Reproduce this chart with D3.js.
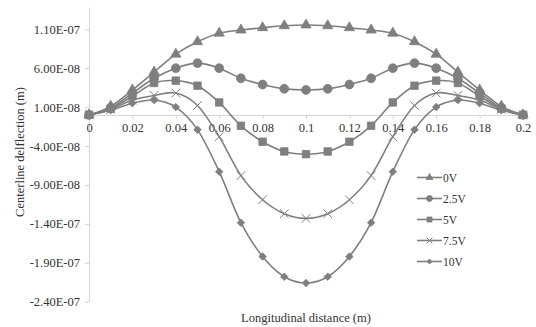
<!DOCTYPE html>
<html>
<head>
<meta charset="utf-8">
<script src="https://cdn.jsdelivr.net/npm/d3@7"></script>
<style>
  body { margin: 0; background: #fff; }
  svg text { font-family: "Liberation Serif", "Times New Roman", serif; fill: #333; }
</style>
</head>
<body>
<svg id="chart" width="536" height="327"></svg>
<script>
// positions along the beam (m)
var xs = [0, 0.01, 0.02, 0.03, 0.04, 0.05, 0.06, 0.07, 0.08, 0.09, 0.1,
          0.11, 0.12, 0.13, 0.14, 0.15, 0.16, 0.17, 0.18, 0.19, 0.2];

// deflection, in units of 1E-08 m
var v0  = [0, 1.1, 3.2, 5.5, 7.8, 9.4, 10.5, 10.9, 11.2, 11.45, 11.55, 11.45, 11.2, 10.9, 10.5, 9.4, 7.8, 5.5, 3.2, 1.1, 0];
var v25 = [0, 0.9, 2.8, 4.7, 6.0, 6.65, 6.0, 4.7, 3.9, 3.35, 3.2, 3.35, 3.9, 4.7, 6.0, 6.65, 6.0, 4.7, 2.8, 0.9, 0];
var v5  = [0, 0.8, 2.4, 4.1, 4.4, 3.75, 1.6, -1.4, -3.45, -4.7, -5.05, -4.7, -3.45, -1.4, 1.6, 3.75, 4.4, 4.1, 2.4, 0.8, 0];
var v75 = [0, 0.7, 1.9, 2.5, 2.8, 1.2, -2.8, -7.8, -10.9, -12.7, -13.3, -12.7, -10.9, -7.8, -2.8, 1.2, 2.8, 2.5, 1.9, 0.7, 0];
var v10 = [0, 0.6, 1.5, 1.9, 1.0, -1.9, -7.3, -13.85, -18.2, -20.8, -21.6, -20.8, -18.2, -13.85, -7.3, -1.9, 1.0, 1.9, 1.5, 0.6, 0];

var seriesNames = ["0V", "2.5V", "5V", "7.5V", "10V"];
var seriesVals  = [v0, v25, v5, v75, v10];
var markerKinds = ["triangle", "circle", "square", "x", "diamond"];

var xTicks = [0, 0.02, 0.04, 0.06, 0.08, 0.1, 0.12, 0.14, 0.16, 0.18, 0.2];
var yTicks = [1.1e-7, 6e-8, 1e-8, -4e-8, -9e-8, -1.4e-7, -1.9e-7, -2.4e-7];
var yTickLabels = ["1.10E-07", "6.00E-08", "1.00E-08", "-4.00E-08", "-9.00E-08", "-1.40E-07", "-1.90E-07", "-2.40E-07"];

var grey = "#7f7f7f";
var axisGrey = "#d4d4d4";

var svg = d3.select("#chart");

var x = d3.scaleLinear().domain([0, 0.2]).range([89, 523]);
var y = d3.scaleLinear().domain([-2.4e-7, 1.386e-7]).range([301.7, 7]);

// y axis
var yAxis = svg.append("g")
  .attr("transform", "translate(" + x(0) + ",0)")
  .call(d3.axisLeft(y).tickValues(yTicks).tickSize(4).tickSizeOuter(0)
    .tickFormat(function(d, i) { return yTickLabels[i]; }));
yAxis.select(".domain").attr("stroke", axisGrey);
yAxis.selectAll(".tick line").attr("stroke", axisGrey);
yAxis.selectAll(".tick text").attr("font-size", "12.5px").attr("x", -9).attr("fill", "#333");

// x axis sits at zero
var xAxis = svg.append("g")
  .attr("transform", "translate(0," + y(0) + ")")
  .call(d3.axisBottom(x).tickValues(xTicks).tickSize(4).tickSizeOuter(0)
    .tickFormat(function(d) { return d3.format("")(+d.toFixed(2)); }));
xAxis.select(".domain").attr("stroke", axisGrey);
xAxis.selectAll(".tick line").attr("stroke", axisGrey);
xAxis.selectAll(".tick text").attr("font-size", "12.5px").attr("y", 8).attr("fill", "#333");

// axis titles
svg.append("text")
  .attr("x", 306).attr("y", 322)
  .attr("text-anchor", "middle")
  .attr("font-size", "12.5px")
  .text("Longitudinal distance (m)");

svg.append("text")
  .attr("transform", "translate(24,152) rotate(-90)")
  .attr("text-anchor", "middle")
  .attr("font-size", "12.5px")
  .text("Centerline delflection (m)");

function markerPath(kind, k) {
  if (kind == "triangle") return d3.symbol().type(d3.symbolTriangle).size(46 * k)();
  if (kind == "circle") return d3.symbol().type(d3.symbolCircle).size(62 * k)();
  if (kind == "square") return d3.symbol().type(d3.symbolSquare).size(56 * k)();
  if (kind == "x") return d3.symbol().type(d3.symbolX).size(50 * k)();
  return d3.symbol().type(d3.symbolSquare).size(28 * k)();
}

function drawMarker(g, kind, cx, cy, k) {
  var p = g.append("path")
    .attr("d", markerPath(kind, k))
    .attr("transform", "translate(" + cx + "," + cy + ")" + (kind == "diamond" ? " rotate(45)" : ""));
  if (kind == "x") {
    p.attr("fill", "none").attr("stroke", grey).attr("stroke-width", 1);
  } else {
    p.attr("fill", grey).attr("stroke", grey).attr("stroke-width", 0.8);
  }
}

var line = d3.line()
  .x(function(d) { return x(d[0]); })
  .y(function(d) { return y(d[1]); })
  .curve(d3.curveCardinal.tension(0));

for (var s in seriesVals) {
  var pts = xs.map(function(v, i) { return [v, seriesVals[s][i] * 1e-8]; });
  var g = svg.append("g").attr("class", "series");
  g.append("path")
    .attr("d", line(pts))
    .attr("fill", "none")
    .attr("stroke", grey)
    .attr("stroke-width", 1.6);
  for (var p in pts) {
    drawMarker(g, markerKinds[s], x(pts[p][0]), y(pts[p][1]), 1);
  }
}

// legend (smaller markers than in the plot)
var legend = svg.append("g").attr("class", "legend");
for (var i in seriesNames) {
  var ly = 177.5 + i * 21;
  legend.append("line")
    .attr("x1", 417).attr("x2", 442)
    .attr("y1", ly).attr("y2", ly)
    .attr("stroke", grey).attr("stroke-width", 1.6);
  drawMarker(legend, markerKinds[i], 429.5, ly, 0.45);
  legend.append("text")
    .attr("x", 443).attr("y", ly)
    .attr("dy", "0.35em")
    .attr("font-size", "11.5px")
    .text(seriesNames[i]);
}
</script>
</body>
</html>
